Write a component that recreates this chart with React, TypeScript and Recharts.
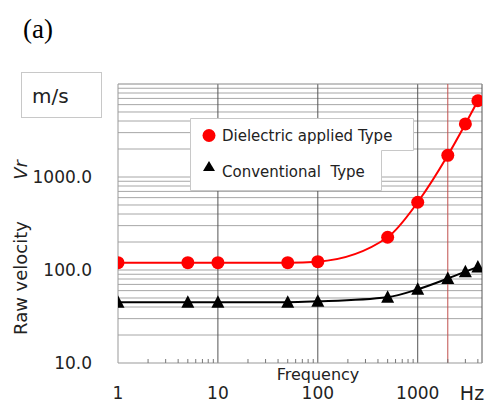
import React from 'react';
import { LineChart, Line, XAxis, YAxis, ReferenceLine } from 'recharts';

// readings taken off the plot
const frequencies = [1, 5, 10, 50, 100, 500, 1000, 2000, 3000, 4000];
const dielectric = [120, 120, 120, 120, 123, 225, 535, 1710, 3720, 6610];
const conventional = [45, 45, 45, 45, 46, 51, 62, 81, 96, 108];

const yTickLabels = [10, 100, 1000];
const xTickLabels = [1, 10, 100, 1000];
const minorSteps = [2, 3, 4, 5, 6, 7, 8, 9];

const X_MAX = 4400;

const yGrid = [10, 100, 1000].flatMap((d) => minorSteps.map((m) => d * m)).concat([100, 1000]);
const xMinor = xTickLabels.flatMap((d) => minorSteps.map((m) => d * m)).filter((v) => v < X_MAX);
const xTicks = [...xTickLabels, ...xMinor].sort((a, b) => a - b);

const data = frequencies.map((f, i) => ({
    f,
    dielectric: dielectric[i],
    conventional: conventional[i],
}));

const FONT = '"DejaVu Sans", sans-serif';

const XTick = (props: any) => {
    const { x, y, payload } = props;
    const v = payload.value;
    if (xTickLabels.includes(v)) {
        return (
            <text x={x} y={y + 30} textAnchor="middle" dominantBaseline="central"
                fontFamily={FONT} fontSize={17} fill="#222">
                {v}
            </text>
        );
    }
    return <line x1={x} x2={x} y1={y - 4} y2={y} stroke="#777" strokeWidth={1} />;
};

const YTick = (props: any) => {
    const { y, payload } = props;
    return (
        <text x={92} y={y} textAnchor="end" dominantBaseline="central"
            fontFamily={FONT} fontSize={17} fill="#222">
            {Number(payload.value).toFixed(1)}
        </text>
    );
};

const RedDot = (p: any) => (
    <circle key={`r${p.index}`} cx={p.cx} cy={p.cy} r={6.5} fill="#ff0000" />
);

const Triangle = (p: any) => (
    <polygon
        key={`t${p.index}`}
        points={`${p.cx},${p.cy - 7} ${p.cx - 6.5},${p.cy + 5.5} ${p.cx + 6.5},${p.cy + 5.5}`}
        fill="#000"
    />
);

export default function App() {
    return (
        <div style={{ position: 'absolute', left: 0, top: 0, width: 485, height: 403, background: '#fff' }}>
            <LineChart width={485} height={403} data={data}
                margin={{ top: 84, right: 3, bottom: 0, left: 0 }}>
                <XAxis dataKey="f" type="number" scale="log" domain={[1, X_MAX]} allowDataOverflow
                    ticks={xTicks} interval={0} height={40} tickLine={false} tickSize={0} tickMargin={0}
                    axisLine={{ stroke: '#999' }} tick={<XTick />} />
                <YAxis type="number" scale="log" domain={[10, 10000]} allowDataOverflow
                    ticks={yTickLabels} width={118} tickLine={false} tickSize={0} tickMargin={0}
                    axisLine={{ stroke: '#999' }} tick={<YTick />} />
                {/* log grid */}
                {yGrid.map((v) => (
                    <ReferenceLine key={`g${v}`} y={v} stroke="#a6a6a6" strokeWidth={1} />
                ))}
                {[10, 100, 1000, X_MAX].map((v) => (
                    <ReferenceLine key={v} x={v} stroke="#555" strokeWidth={1} />
                ))}
                <ReferenceLine y={10000} stroke="#888" strokeWidth={1} />
                <ReferenceLine x={2000} stroke="#c0504d" strokeWidth={1} />
                <Line dataKey="dielectric" type="monotone" stroke="#ff0000" strokeWidth={2}
                    dot={RedDot} activeDot={false} isAnimationActive={false} />
                <Line dataKey="conventional" type="monotone" stroke="#000" strokeWidth={2}
                    dot={Triangle} activeDot={false} isAnimationActive={false} />
            </LineChart>

            {/* labels, unit box and legend */}
            <svg width={485} height={403} style={{ position: 'absolute', left: 0, top: 0, pointerEvents: 'none' }}>
                <text x={23} y={38} fontFamily='"Liberation Serif", serif' fontSize={27} fill="#000">(a)</text>

                <rect x={21.5} y={72.5} width={80} height={45} fill="#fff" stroke="#c8c8c8" />
                <text x={32} y={96} dominantBaseline="central" fontFamily={FONT} fontSize={20} fill="#222">m/s</text>

                <text transform="translate(20,278) rotate(-90)" textAnchor="middle" dominantBaseline="central"
                    fontFamily={FONT} fontSize={18} fill="#222">Raw velocity</text>
                <text transform="translate(20,170) rotate(-90)" textAnchor="middle" dominantBaseline="central"
                    fontFamily={FONT} fontSize={18} fontStyle="italic" fill="#222">Vr</text>

                <text x={318} y={374} textAnchor="middle" dominantBaseline="central"
                    fontFamily={FONT} fontSize={16} fill="#222">Frequency</text>
                <text x={472} y={393} textAnchor="middle" dominantBaseline="central"
                    fontFamily={FONT} fontSize={19} fill="#222">Hz</text>

                <path d="M190.5,118.5 H413.5 V150.5 H381.5 V190.5 H190.5 Z" fill="#fff" stroke="#c8c8c8" />
                <circle cx={209} cy={135.5} r={6.5} fill="#ff0000" />
                <text x={222} y={136} dominantBaseline="central" fontFamily={FONT} fontSize={15} fill="#222">
                    Dielectric applied Type
                </text>
                <polygon points="209,161 203,171 215,171" fill="#000" />
                <text x={222} y={172} dominantBaseline="central" fontFamily={FONT} fontSize={15} fill="#222"
                    style={{ whiteSpace: 'pre' }}>
                    {'Conventional  Type'}
                </text>
            </svg>
        </div>
    );
}
